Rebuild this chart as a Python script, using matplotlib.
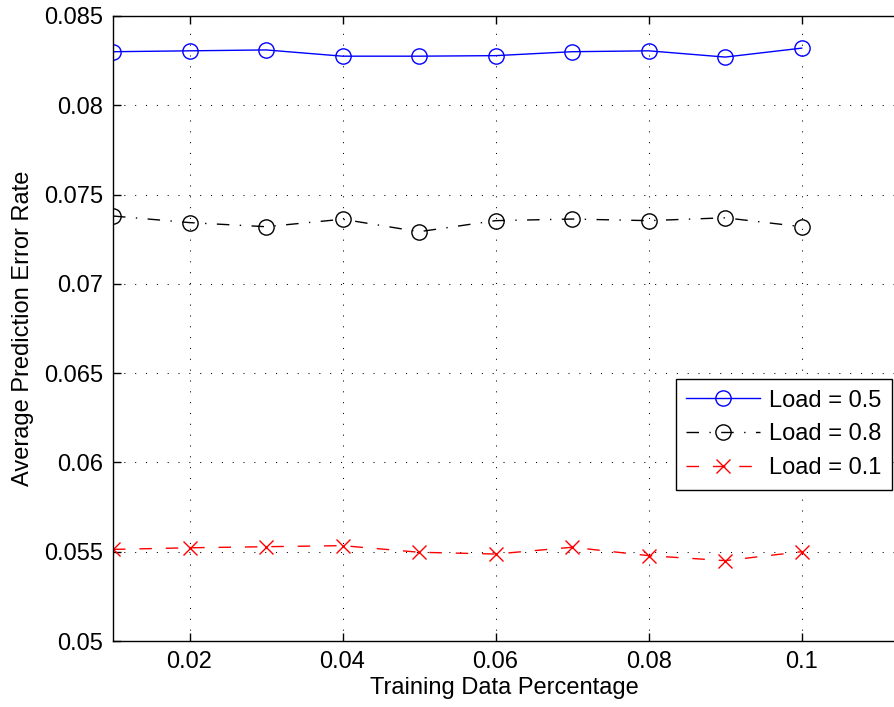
import matplotlib
matplotlib.use("Agg")
import matplotlib.pyplot as plt

x = [0.01, 0.02, 0.03, 0.04, 0.05, 0.06, 0.07, 0.08, 0.09, 0.10]
load_05 = [0.0830, 0.08305, 0.0831, 0.08275, 0.08275, 0.08278, 0.0830, 0.08305, 0.0827, 0.0832]
load_08 = [0.0738, 0.07343, 0.0732, 0.07362, 0.07292, 0.07354, 0.07363, 0.07354, 0.0737, 0.0732]
load_01 = [0.05513, 0.05522, 0.05528, 0.05534, 0.05497, 0.05487, 0.05525, 0.05478, 0.0545, 0.0550]
xticks = [0.02, 0.04, 0.06, 0.08, 0.1]
xtick_labels = ["0.02", "0.04", "0.06", "0.08", "0.1"]
yticks = [0.05, 0.055, 0.06, 0.065, 0.07, 0.075, 0.08, 0.085]
ytick_labels = ["0.05", "0.055", "0.06", "0.065", "0.07", "0.075", "0.08", "0.085"]

plt.rcParams['font.family'] = ['Liberation Sans', 'DejaVu Sans']
fig = plt.figure(figsize=(8.94, 7.07), dpi=100)
W, H = 894, 707
ax = fig.add_axes([113 / W, 1 - 641 / H, 1.0 - 113 / W + 0.002, (641 - 16) / H])

ax.plot(x, load_05, color='#0000ff', linestyle='-', linewidth=1.0, marker='o',
        markersize=11, markerfacecolor='none', markeredgecolor='#0000ff',
        markeredgewidth=1.0, label='Load = 0.5')
ax.plot(x, load_08, color='black', linestyle=(0, (9, 7.5, 1, 7.5)), linewidth=1.0, marker='o',
        markersize=11, markerfacecolor='none', markeredgecolor='black',
        markeredgewidth=1.0, label='Load = 0.8')
ax.plot(x, load_01, color='#ff0000', linestyle=(0, (9, 10)), linewidth=1.0, marker='x',
        markersize=10, markeredgecolor='#ff0000', markeredgewidth=1.0,
        label='Load = 0.1')

ax.set_xlim(0.01, 0.1123)
ax.set_ylim(0.05, 0.085)
ax.set_xticks(xticks)
ax.set_xticklabels(xtick_labels)
ax.set_yticks(yticks)
ax.set_yticklabels(ytick_labels)
ax.tick_params(direction='in', labelsize=17, length=6, width=1, top=True, right=False)
ax.tick_params(axis='x', pad=7)
ax.tick_params(axis='y', pad=7)
ax.grid(True, linestyle=(0, (1, 9.4)), color='black', linewidth=0.75)
for s in ax.spines.values():
    s.set_linewidth(1.0)
ax.spines['right'].set_visible(False)

ax.set_xlabel('Training Data Percentage', fontsize=17, labelpad=3)
ax.set_ylabel('Average Prediction Error Rate', fontsize=17, labelpad=7)

leg = ax.legend(loc='upper right', bbox_to_anchor=(892 / W, 1 - 379 / H),
                bbox_transform=fig.transFigure, fontsize=17, frameon=True,
                fancybox=False, edgecolor='black', framealpha=1,
                handlelength=3.1, borderpad=0.45, labelspacing=0.5,
                handletextpad=0.4, borderaxespad=0)
leg.get_frame().set_linewidth(1.0)

fig.savefig('out.png', dpi=100)
